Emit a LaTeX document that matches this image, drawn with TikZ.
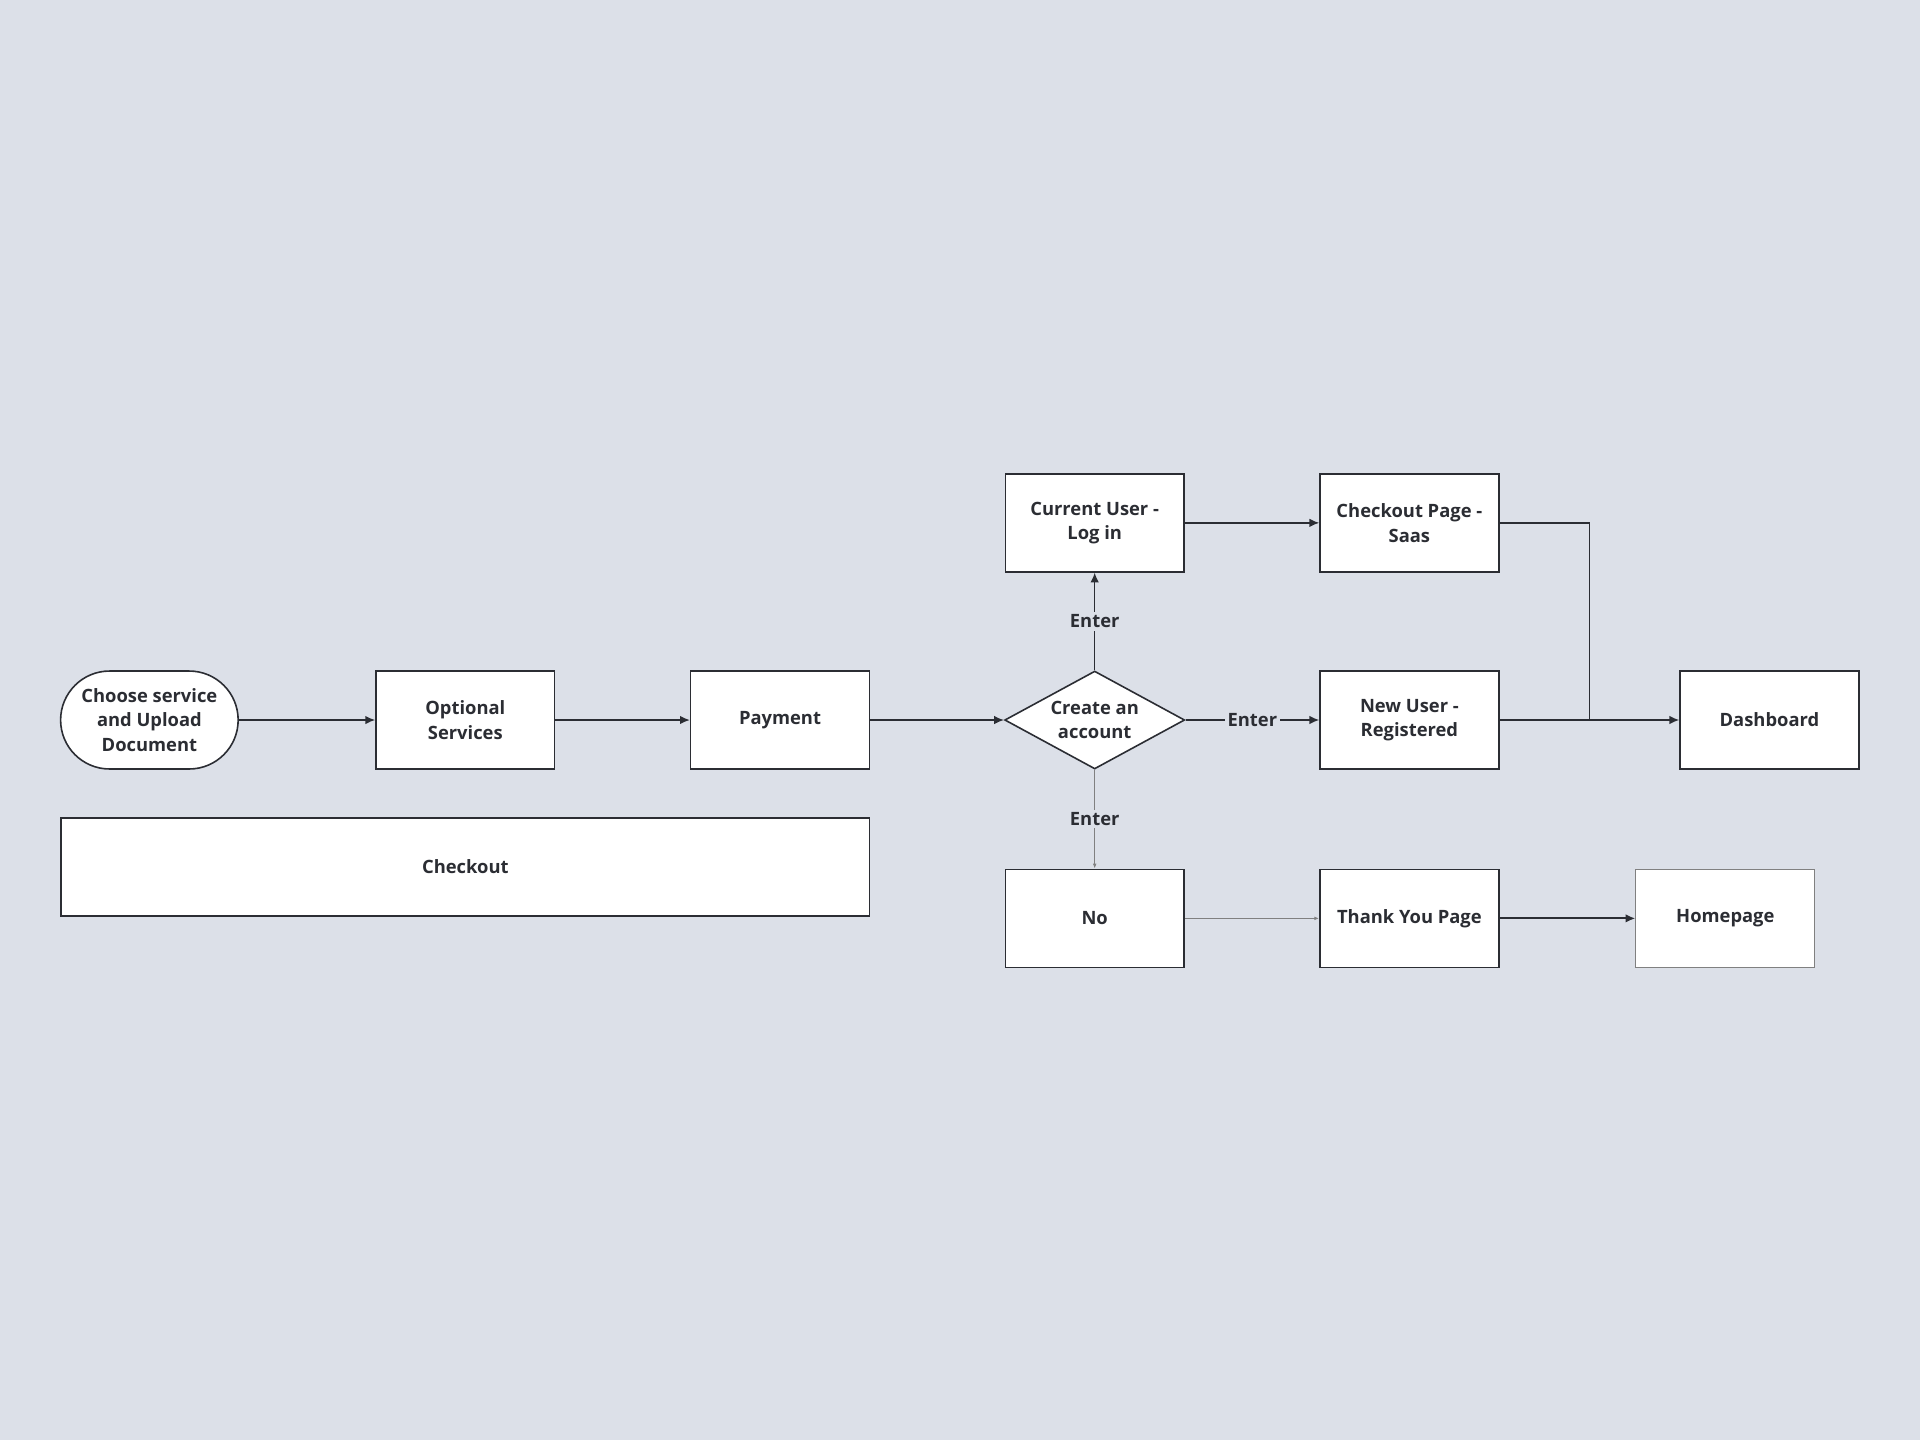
\documentclass[tikz,border=0pt]{standalone}
\usepackage{fontspec}
\setmainfont{Open Sans}
\usetikzlibrary{shapes.geometric,arrows.meta}
\definecolor{bg}{HTML}{DCE0E8}
\definecolor{ln}{HTML}{2B2D33}
\begin{document}
\begin{tikzpicture}[x=1pt,y=-1pt,
 box/.style={draw=ln,line width=1.3pt,fill=white,minimum width=146pt,minimum height=80pt,align=center,font=\fontsize{15}{20}\selectfont\bfseries,text=ln},
 arr/.style={draw=ln,line width=1.2pt,-{Latex[length=8pt,width=7pt]}},
 lab/.style={fill=bg,font=\fontsize{15}{18}\selectfont\bfseries,text=ln,inner sep=2pt}]
\fill[bg] (0,0) rectangle (1568,1176);
\useasboundingbox (0,0) rectangle (1568,1176);
\node[box,rounded corners=40pt,minimum width=145pt] (a) at (122,588) {Choose service\\and Upload\\Document};
\node[box] (b) at (380,588) {Optional\\Services};
\node[box] (c) at (637,588) {Payment};
\node[box,diamond,aspect=1.83,minimum width=147pt,minimum height=80pt,inner sep=0pt] (d) at (894,588) {Create an\\account};
\node[box] (e) at (894,427) {Current User -\\Log in};
\node[box] (f) at (1151,427) {Checkout Page -\\Saas};
\node[box] (g) at (1151,588) {New User -\\Registered};
\node[box] (h) at (1445,588) {Dashboard};
\node[box] (i) at (894,750) {No};
\node[box] (j) at (1151,750) {Thank You Page};
\node[box,draw=gray,line width=0.8pt] (k) at (1409,750) {Homepage};
\node[box,minimum width=660pt] (l) at (380,708) {Checkout};
\draw[arr] (a) -- (b);
\draw[arr] (b) -- (c);
\draw[arr] (c) -- (d);
\draw[arr] (d) -- node[lab]{Enter} (e);
\draw[arr] (d) -- node[lab]{Enter} (g);
\draw[draw=gray,line width=0.8pt,-{Latex[length=4pt,width=3pt]}] (d) -- node[lab]{Enter} (i);
\draw[arr] (e) -- (f);
\draw[arr] (g) -- (h);
\coordinate (m) at (1298,588);
\draw[ln,line width=1.2pt] (f.east) -| (m);
\draw[draw=gray,line width=0.8pt,-{Latex[length=4pt,width=3pt]}] (i) -- (j);
\draw[arr,line width=1.6pt] (j) -- (k);
\end{tikzpicture}
\end{document}
